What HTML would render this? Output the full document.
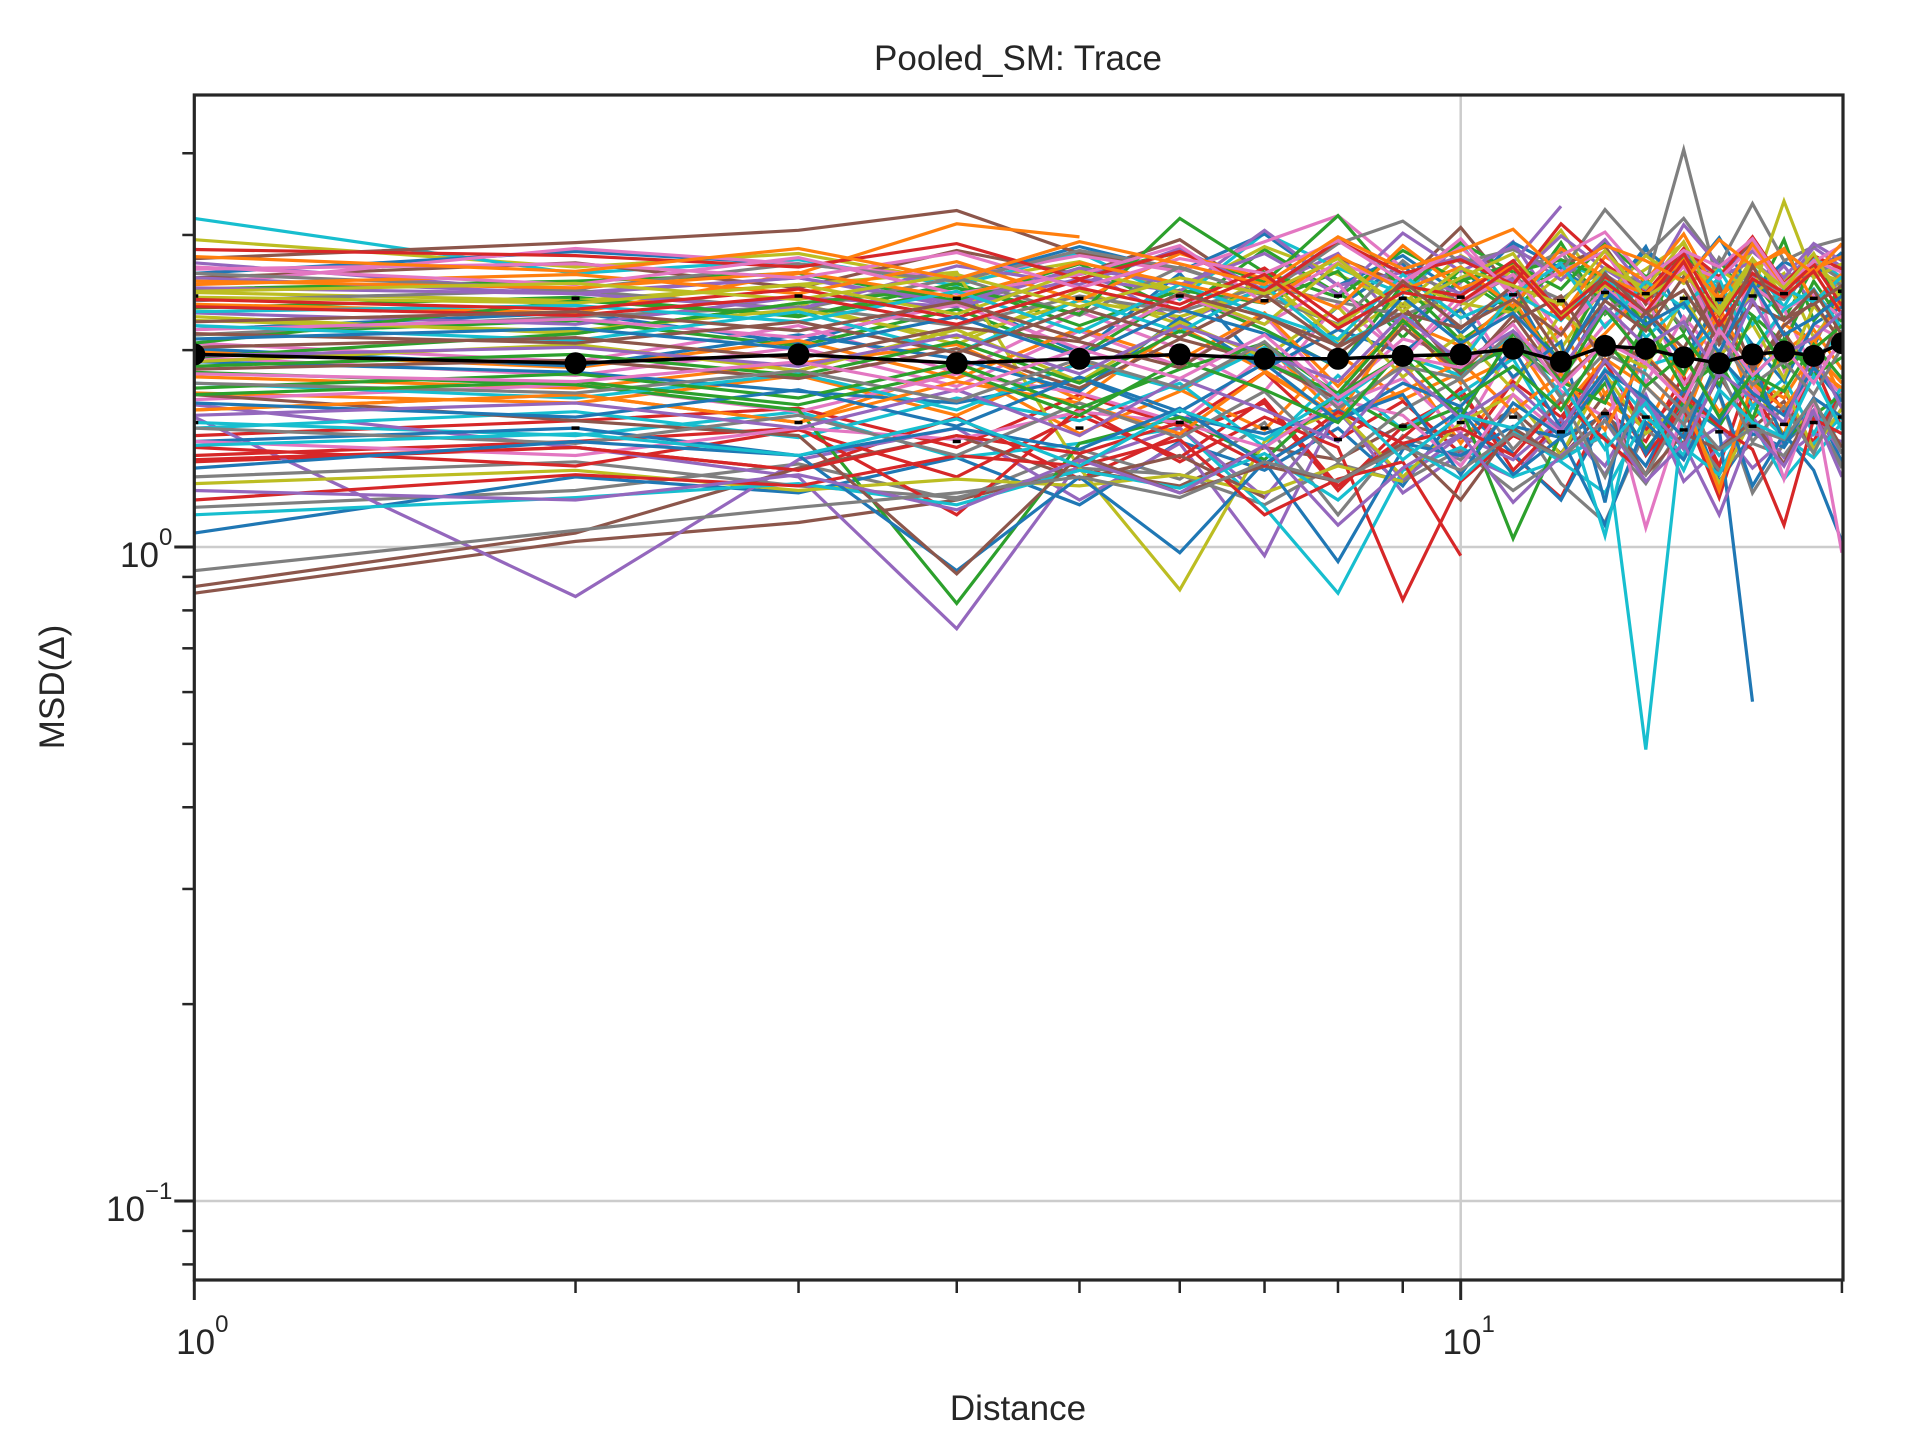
<!DOCTYPE html>
<html><head><meta charset="utf-8"><style>
html,body{margin:0;padding:0;background:#fff;}
svg{display:block;font-family:"Liberation Sans",Arial,sans-serif;}
</style></head><body>
<svg id="chart" width="1920" height="1440" viewBox="0 0 1920 1440" xmlns="http://www.w3.org/2000/svg">
<defs><clipPath id="plotclip"><rect x="194.3" y="95" width="1648.7" height="1185"/></clipPath></defs>
<rect width="1920" height="1440" fill="#fff"/>
<text x="1018" y="70" text-anchor="middle" font-size="35" fill="#262626">Pooled_SM: Trace</text>
<text x="1018" y="1420" text-anchor="middle" font-size="35" fill="#262626">Distance</text>
<text transform="translate(64,687) rotate(-90)" text-anchor="middle" font-size="35" fill="#262626">MSD(Δ)</text>
<g id="grid"></g>
<g id="traj" clip-path="url(#plotclip)"></g>
<g id="mean" clip-path="url(#plotclip)"></g>
<g id="axes"></g>
</svg>
<script>
const distances = [1,2,3,4,5,6,7,8,9,10,11,12,13,14,15,16,17,18,19,20];
const meanValues = [1.97,1.91,1.97,1.91,1.94,1.97,1.94,1.94,1.96,1.97,2.01,1.92,2.03,2.01,1.95,1.91,1.97,1.99,1.96,2.05];
const upperValues = [2.42,2.40,2.42,2.40,2.40,2.42,2.38,2.42,2.40,2.41,2.43,2.38,2.45,2.44,2.40,2.39,2.42,2.44,2.40,2.46];
const lowerValues = [1.55,1.52,1.55,1.45,1.52,1.55,1.52,1.46,1.53,1.55,1.58,1.50,1.60,1.58,1.51,1.50,1.53,1.54,1.55,1.58];
const yMajorTicks = [0.1,1];
const yMinorTicks = [0.08,0.09,0.2,0.3,0.4,0.5,0.6,0.7,0.8,0.9,2,3,4];
const xMajorTicks = [1,10];
const xMinorTicks = [2,3,4,5,6,7,8,9,20];
const trajectories = [
[2.15,2.28,2.05,2.41,1.98,2.62,1.87,2.33,2.71,2.12,2.48,1.83,2.39,2.88,2.21,1.74,2.57,2.31,2.02,2.52],
[1.62,1.71,1.55,1.88,1.49,1.73,2.05,1.58,1.92,1.44,1.81,2.16,1.67,1.52,1.95,1.61,1.79,1.48,2.08,1.69],
[2.48,2.55,2.62,2.38,2.71,2.29,2.85,2.44,2.18,2.66,2.31,2.92,2.27,2.58,2.13,2.74,2.36,2.95,2.22,2.49],
[1.35,1.42,1.31,1.58,1.27,1.49,1.66,1.22,1.53,1.71,1.38,1.19,1.62,1.45,1.83,1.29,1.57,1.74,1.41,1.63],
[2.72,2.45,2.58,2.33,2.67,2.21,2.49,2.81,2.16,2.54,2.93,2.26,2.61,2.38,2.77,2.11,2.42,2.69,2.35,2.56],
[0.85,1.02,1.09,1.18,1.31,1.24,1.42,1.36,1.54,1.47,1.62,1.39,1.71,1.58,1.44,1.83,1.52,1.67,1.41,1.73],
[2.05,1.92,2.18,1.85,2.29,2.01,1.73,2.36,1.96,2.44,1.81,2.12,2.53,1.78,2.25,1.94,2.61,1.86,2.19,2.08],
[1.15,1.22,1.34,1.18,1.41,1.27,1.55,1.12,1.48,1.36,1.62,1.25,1.09,1.51,1.38,1.71,1.21,1.44,1.58,1.32],
[2.95,2.68,2.81,2.54,2.73,2.46,2.88,2.61,2.35,2.79,2.52,3.05,2.43,2.66,2.91,2.38,2.84,2.57,2.71,2.49],
[3.18,2.62,2.75,2.51,2.82,2.39,3.02,2.67,2.44,2.91,2.28,2.73,2.56,2.38,2.84,2.47,2.69,2.33,2.77,2.58],
[1.05,1.28,1.21,1.37,1.16,1.45,1.31,1.52,1.24,1.63,1.39,1.18,1.57,1.33,1.71,1.26,1.49,1.42,1.66,1.35],
[1.72,1.66,1.83,1.59,1.92,1.74,1.51,1.97,1.68,1.85,2.08,1.62,1.94,1.76,1.55,2.13,1.81,1.69,1.99,1.78],
[2.32,2.41,2.25,2.53,2.18,2.47,2.36,2.64,2.09,2.58,2.29,2.71,2.44,2.15,2.82,2.37,2.56,2.23,2.68,2.42],
[1.48,1.56,1.63,1.42,1.71,1.53,1.85,1.46,1.67,1.39,1.79,1.58,1.92,1.51,1.74,1.33,1.88,1.61,1.45,1.76],
[1.58,0.84,1.36,1.52,1.18,1.44,0.97,1.63,1.21,1.39,1.28,1.55,1.33,1.71,1.26,1.42,1.58,1.37,1.49,1.45],
[2.58,2.72,2.49,2.84,2.61,2.95,2.42,2.77,2.53,3.08,2.46,2.69,2.88,2.35,2.74,2.57,2.92,2.48,2.65,2.81],
[1.95,1.83,2.02,1.76,2.14,1.89,2.26,1.71,2.08,1.97,2.35,1.82,2.19,2.43,1.77,2.11,1.93,2.31,1.86,2.04],
[1.28,1.35,1.24,1.19,1.32,1.29,1.16,1.34,1.26,1.41,1.22,1.37,1.48,1.25,1.54,1.31,1.44,1.38,1.59,1.33],
[2.25,2.12,2.36,2.04,2.47,2.19,2.58,2.07,2.41,2.29,2.66,2.01,2.52,2.24,2.75,2.16,2.44,2.62,2.09,2.38],
[1.55,1.48,1.61,1.37,1.44,1.52,1.15,0.85,1.31,1.42,1.28,1.36,1.49,0.49,1.62,1.38,1.55,1.27,1.44,1.58],
[2.62,2.83,2.71,2.56,2.88,2.64,3.01,2.51,2.79,2.43,2.92,2.67,2.38,2.85,2.55,2.97,2.46,2.73,2.59,2.82],
[1.82,1.75,1.91,2.04,1.68,2.17,1.86,1.59,2.23,1.78,1.95,2.38,1.71,2.09,1.83,2.28,1.64,1.99,2.15,1.87],
[2.11,2.22,2.03,2.31,1.96,2.43,2.15,1.88,2.52,2.07,2.34,1.92,2.61,2.18,1.84,2.47,2.26,2.05,2.55,2.21],
[1.42,1.33,1.51,1.28,1.59,1.37,1.68,1.24,1.47,1.75,1.31,1.56,1.82,1.38,1.63,1.19,1.72,1.45,1.91,1.52],
[1.65,1.42,1.28,0.75,1.35,1.52,1.19,1.61,1.27,1.48,1.36,1.57,1.29,1.68,1.41,1.53,1.32,1.46,1.62,1.39],
[2.76,2.92,3.05,3.27,2.81,2.66],
[1.68,1.77,1.61,1.84,1.72,1.55,1.96,1.65,1.81,1.49,2.03,1.73,1.58,1.92,1.67,2.12,1.76,1.54,1.88,1.71],
[2.11,2.25,2.33,2.18,2.42,2.29,2.51,2.37,2.26,2.45,2.58,2.39,2.67,2.52,4.05,2.48,2.61,2.44,2.73,2.56],
[2.45,2.38,2.52,2.63,1.32,0.86,1.45,1.62,1.28,1.55,1.71,1.38,1.84,1.49,1.66,1.25,1.58,1.76,1.41,1.63],
[1.52,1.61,1.47,1.69,1.56,1.78,1.42,1.83,1.51,1.72,1.94,1.46,1.87,1.59,1.38,1.99,1.64,1.81,1.49,1.76],
[1.92,1.85,1.73,1.66,1.81,1.58,1.49,1.62,1.44,1.38,1.53,1.47,1.59,1.41,1.66,1.52,0.58],
[2.35,2.28,2.62,3.12,2.98],
[1.85,1.77,1.62,0.82,1.44,1.58,1.36,1.72,1.51,1.64,1.03,1.49,1.78,1.41,1.67,1.53,1.85,1.46,1.59,1.71],
[1.38,1.45,1.52,1.12,1.63,1.35,1.58,1.42,0.83,1.26,1.48,1.37],
[2.28,2.19,2.41,2.33,2.57,2.46,3.05,2.51,2.63,2.44,2.72,3.32],
[0.87,1.05,1.32,1.48,1.27,1.38,1.19],
[2.52,2.86,2.71,2.58,2.79,2.64,2.93,3.21,2.67],
[2.38,2.47,2.31,2.58,2.26,2.68,2.42,2.19,2.74,2.35,2.61,2.83,2.28,2.52,2.16,2.77,2.45,2.39,2.66,2.51],
[1.25,1.31,1.22,1.27,1.24,1.29,1.21,1.33,1.26],
[1.12,1.19,1.25,1.16,1.31,1.23,1.39,1.18,1.44,1.27,1.51,1.35,1.21,1.58,1.42,1.29,1.64,1.47,1.37,1.55],
[1.45,1.52,1.38,0.92,1.28,0.98,1.35,0.95,1.41,1.62,1.29,1.47,1.08,1.55,1.36,1.72,1.24,1.49,1.31,1.02],
[1.99,1.88,2.07,1.81,2.16,1.93,2.28,1.76,2.21,2.03,2.39,1.86,2.12,2.47,1.92,2.33,1.84,2.19,2.05,2.41],
[2.05,2.38,2.26,2.45,2.61,2.82,2.54,3.21,2.47,2.92,2.63,2.75,2.58,2.44],
[1.18,1.29,1.24,1.38,1.33,1.46,1.12,1.27,1.35,0.97],
[2.58,2.44,2.31,2.69,2.52,2.86,2.47,2.94,2.61,2.78,2.55,2.99,2.66,2.43,2.81,2.59,2.73,2.51,2.87,2.68],
[1.71,1.56,1.48,0.91,1.38,1.21,1.33,1.26,1.44,1.18,1.52,1.37,1.62,1.29,1.49,1.41,1.56,1.34,1.67,1.42],
[1.45,1.38,1.52,1.46,1.61,1.55,1.42,1.68,1.59,1.33,1.71,1.49,1.84,1.07,1.62,1.56,1.78,1.27,1.69,0.98],
[2.62,2.48,2.71,2.55,2.84,2.67,2.43,2.91,3.15,2.72,2.85,2.63,3.28,2.79,3.18,2.69,3.35,2.74,2.88,2.96],
[2.22,2.14,2.31,2.09,2.38,2.25,2.47,2.18,2.55,2.36,2.28,2.61,2.42,2.79,2.53,2.66,2.45,3.38,2.58,2.71],
[1.78,1.69,1.84,1.62,1.91,1.74,2.02,1.67,1.96,1.83,2.12,1.71,1.04,1.89,1.97,2.18,1.81,2.06,1.92,2.14],
[2.01,1.89,2.11,1.94,1.73,2.24,1.87,2.15,1.98,2.31,1.82,2.06,1.17,2.27,1.93,2.38,2.04,1.79,2.19,2.33],
[1.62,1.71,1.55,1.79,1.66,1.49,1.85,1.58,1.73,1.92,1.61,1.84,1.51,1.97,1.69,1.22,1.78,1.63,1.88,1.75],
[1.95,2.12,2.36,2.49,2.27,3.18,2.63,2.41,2.84,2.55,2.71,2.48,2.92,2.59,2.77],
[1.36,1.42,1.31,1.48,1.39,1.55,1.33,1.61,1.44,1.52,1.38,1.67,1.46,1.29,1.72,1.53,1.41,1.08,1.57,1.49],
[2.49,2.44,2.58,2.36,2.67,2.52,2.81,2.43,3.02,2.64,2.88,2.56,2.95,2.47,3.11,2.69,2.83,2.58,2.91,2.74],
[1.87,1.93,1.81,2.01,1.75,2.08,1.92,1.68,2.17,1.84,2.26,1.79,2.05,1.95,1.71,2.22,1.88,2.13,1.82,2.29],
[2.15,2.23,2.09,2.35,2.01,2.42,2.19,2.53,1.94,2.37,2.61,2.12,2.48,2.27,2.69,2.06,2.51,2.31,2.43,2.24],
[1.52,1.44,1.59,1.38,1.66,1.47,1.73,1.35,1.62,1.81,1.41,1.69,1.28,1.76,1.54,1.87,1.45,1.64,1.39,1.71],
[1.92,2.04,1.86,2.15,1.79,2.21,1.95,2.33,1.82,2.11,1.74,2.28,2.02,1.88,2.41,1.96,2.19,1.81,2.34,2.07],
[2.18,2.07,2.29,1.98,2.39,2.13,2.51,2.04,2.27,1.91,2.45,2.22,2.63,2.09,2.36,2.57,1.99,2.31,2.48,2.16],
[1.32,1.45,1.38,1.52,1.41,1.63,1.34,1.57,1.71,1.29,1.66,1.48,1.82,1.39,1.74,1.55,1.93,1.44,1.69,1.58],
[2.52,2.61,2.44,2.73,2.38,2.81,2.57,2.32,2.89,2.48,2.69,2.25,2.78,2.55,3.01,2.41,2.67,2.86,2.37,2.62],
[1.75,1.84,1.69,1.91,1.63,1.87,2.05,1.71,1.96,1.58,2.12,1.79,1.66,2.21,1.74,1.92,1.57,2.08,1.83,1.95],
[2.85,2.79,2.68,2.91,2.57,2.83,2.46,2.94,2.62,2.75,2.52,3.12,2.71,2.44,2.86,2.59,2.98,2.53,2.79,2.66],
[1.22,1.18,1.29,1.14,1.36,1.21,1.43,1.08,1.32,1.49,1.17,1.38,1.56,1.26,1.44,1.12,1.52,1.33,1.61,1.28],
[2.02,2.09,1.94,2.17,2.06,1.88,2.26,1.97,2.34,1.85,2.21,2.42,1.91,2.29,2.01,2.51,1.87,2.18,2.37,2.05],
[2.68,2.52,2.77,2.44,2.61,2.89,2.36,2.72,2.51,2.96,2.41,2.64,2.83,2.29,2.71,2.57,2.88,2.46,2.74,2.63],
[0.92,1.06,1.15,1.21,1.28,1.19,1.35,1.26,1.42,1.31,1.49,1.37,1.56,1.29,1.63,1.41,1.52,1.46,1.68,1.39],
[2.41,2.36,2.52,2.27,2.64,2.45,2.19,2.71,2.33,2.58,2.81,2.24,2.67,2.49,2.93,2.31,2.76,2.42,2.63,2.55],
[2.29,2.34,2.21,2.46,2.13,2.52,2.27,2.08,2.61,2.24,2.43,2.71,2.17,2.55,2.32,2.66,2.19,2.48,2.37,2.59],
[1.66,1.58,1.74,1.53,1.82,1.61,1.91,1.56,1.78,1.64,2.01,1.52,1.86,1.69,1.47,1.95,1.72,1.59,1.88,1.67],
[2.55,2.49,2.63,2.41,2.72,2.53,2.36,2.79,2.47,2.68,2.33,2.86,2.58,2.44,2.75,2.39,2.91,2.51,2.66,2.78],
[1.89,1.97,1.83,2.06,1.78,2.14,1.91,1.72,2.22,1.86,2.03,1.79,2.31,1.94,2.11,1.77,2.25,1.88,2.01,2.18],
[2.39,2.31,2.48,2.24,2.56,2.35,2.67,2.22,2.51,2.42,2.74,2.28,2.59,2.37,2.81,2.26,2.62,2.45,2.71,2.34],
[1.59,1.66,1.52,1.74,1.48,1.81,1.62,1.45,1.88,1.57,1.77,1.51,1.93,1.64,1.42,1.85,1.69,1.55,1.98,1.63],
[2.12,2.05,2.21,1.98,2.32,2.09,2.43,2.02,2.28,2.16,2.51,1.95,2.38,2.14,2.59,2.04,2.35,2.22,2.47,2.11],
[2.66,2.71,2.58,2.82,2.49,2.76,2.62,2.94,2.55,2.87,2.46,2.79,3.03,2.57,2.84,2.68,2.96,2.52,2.73,2.89],
[1.78,1.72,1.86,1.67,1.94,1.75,2.06,1.63,1.89,1.81,2.14,1.69,1.98,1.84,1.61,2.09,1.77,1.92,1.71,2.02],
[2.46,2.53,2.39,2.61,2.33,2.58,2.44,2.76,2.29,2.67,2.51,2.35,2.84,2.41,2.63,2.27,2.72,2.49,2.81,2.38],
[1.43,1.49,1.38,1.57,1.33,1.62,1.46,1.71,1.36,1.59,1.52,1.78,1.41,1.66,1.31,1.74,1.55,1.47,1.83,1.51],
[2.08,2.16,2.01,2.25,1.95,2.31,2.12,1.89,2.41,2.05,2.28,1.92,2.47,2.19,2.36,1.98,2.53,2.11,2.24,2.42],
[2.78,2.64,2.86,2.57,2.93,2.71,2.52,2.98,2.66,2.84,3.06,2.61,2.89,2.74,2.55,2.95,2.69,2.83,2.62,2.91],
[1.71,1.79,1.65,1.86,1.59,1.93,1.74,1.55,2.01,1.68,1.89,1.62,2.07,1.76,1.97,1.58,1.84,1.73,2.04,1.81],
[2.33,2.26,2.42,2.19,2.49,2.31,2.61,2.16,2.45,2.37,2.68,2.23,2.54,2.29,2.73,2.18,2.57,2.41,2.64,2.27],
[1.96,2.02,1.89,2.11,1.84,2.18,1.98,1.79,2.26,1.92,2.14,1.86,2.33,2.03,2.21,1.83,2.39,1.97,2.09,2.29],
[2.21,2.29,2.14,2.37,2.08,2.44,2.25,2.03,2.55,2.17,2.39,2.11,2.62,2.28,2.47,2.06,2.69,2.23,2.35,2.51],
[1.84,1.79,1.92,1.73,2.01,1.81,2.11,1.69,1.96,1.88,2.19,1.76,2.06,1.91,1.67,2.15,1.83,2.02,1.78,2.09]
];
const palette = ["#1f77b4","#ff7f0e","#2ca02c","#d62728","#9467bd","#8c564b","#e377c2","#7f7f7f","#bcbd22","#17becf"];

const NS = "http://www.w3.org/2000/svg";
const X0 = 194.3, XDEC = 1266.4, Y0 = 547, YDEC = 654;
const L = 194.3, R = 1843, T = 95, B = 1280;
function xs(v){ return X0 + Math.log10(v) * XDEC; }
function ys(v){ return Y0 - Math.log10(v) * YDEC; }
function mk(tag, attrs, parent){
  const e = document.createElementNS(NS, tag);
  for (const k in attrs) e.setAttribute(k, attrs[k]);
  parent.appendChild(e);
  return e;
}
const grid = document.getElementById('grid');
yMajorTicks.forEach(v => {
  const g = mk('line', {x1:L, x2:R, y1:ys(v), y2:ys(v), stroke:'#cccccc', 'stroke-width':2.5}, grid);
  
  
});
xMajorTicks.forEach(v => {
  if (v === 1) return;
  const g = mk('line', {x1:xs(v), x2:xs(v), y1:T, y2:B, stroke:'#cccccc', 'stroke-width':2.5}, grid);
  
  
});

const traj = document.getElementById('traj');
trajectories.forEach((series, i) => {
  const pts = series.map((v, j) => xs(distances[j]).toFixed(1) + ',' + ys(v).toFixed(1)).join(' ');
  const p = mk('polyline', {points:pts, fill:'none', stroke:palette[i % 10], 'stroke-width':3.2, 'stroke-linejoin':'miter'}, traj);
  
  
});

const mean = document.getElementById('mean');
distances.forEach((d, j) => {
  [upperValues[j], lowerValues[j]].forEach(v => {
    const c = mk('line', {x1:xs(d)-4, x2:xs(d)+4, y1:ys(v), y2:ys(v), stroke:'#000', 'stroke-width':3.5}, mean);
    
    
  });
});
const mpts = meanValues.map((v, j) => xs(distances[j]).toFixed(1) + ',' + ys(v).toFixed(1)).join(' ');
const ml = mk('polyline', {points:mpts, fill:'none', stroke:'#000', 'stroke-width':3.5}, mean);


meanValues.forEach((v, j) => {
  const c = mk('circle', {cx:xs(distances[j]), cy:ys(v), r:11, fill:'#000'}, mean);
  
  
});

const axes = document.getElementById('axes');
const frame = mk('rect', {x:L, y:T, width:R-L, height:B-T, fill:'none', stroke:'#262626', 'stroke-width':3.2}, axes);


yMajorTicks.forEach(v => {
  const t = mk('line', {x1:L-20, x2:L, y1:ys(v), y2:ys(v), stroke:'#262626', 'stroke-width':3}, axes);
  
  
  const exp = Math.round(Math.log10(v));
  const tx = mk('text', {x:L-22, y:ys(v)+20, 'text-anchor':'end', 'font-size':35, fill:'#262626'}, axes);
  
  
  const a = document.createElementNS(NS, 'tspan'); a.textContent = '10'; tx.appendChild(a);
  const b = document.createElementNS(NS, 'tspan'); b.setAttribute('dy', '-22'); b.setAttribute('font-size', '24'); b.textContent = exp < 0 ? '\u2212' + (-exp) : String(exp); tx.appendChild(b);
});
yMinorTicks.forEach(v => {
  const t = mk('line', {x1:L-12, x2:L, y1:ys(v), y2:ys(v), stroke:'#262626', 'stroke-width':2.5}, axes);
  
  
});
xMajorTicks.forEach(v => {
  const t = mk('line', {x1:xs(v), x2:xs(v), y1:B, y2:B+20, stroke:'#262626', 'stroke-width':3}, axes);
  
  
  const exp = Math.round(Math.log10(v));
  const tx = mk('text', {x:xs(v)+8, y:B+74, 'text-anchor':'middle', 'font-size':35, fill:'#262626'}, axes);
  
  
  const a = document.createElementNS(NS, 'tspan'); a.textContent = '10'; tx.appendChild(a);
  const b = document.createElementNS(NS, 'tspan'); b.setAttribute('dy', '-22'); b.setAttribute('font-size', '24'); b.textContent = String(exp); tx.appendChild(b);
});
xMinorTicks.forEach(v => {
  const t = mk('line', {x1:xs(v), x2:xs(v), y1:B, y2:B+13, stroke:'#262626', 'stroke-width':2.5}, axes);
  
  
});
</script>
</body></html>
